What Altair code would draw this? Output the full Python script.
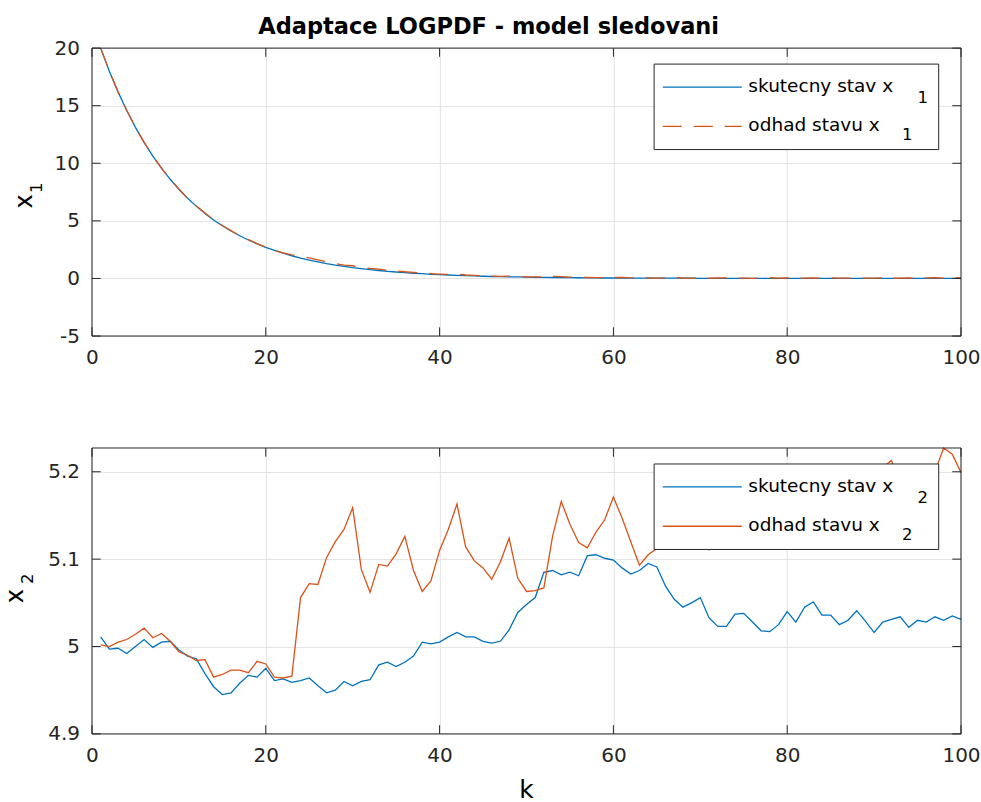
import altair as alt
import pandas as pd

# ---- data -------------------------------------------------------------
k = list(range(1, 101))

x1_true = [
    20.00, 18.00, 16.20, 14.58, 13.12, 11.81, 10.63, 9.57, 8.61, 7.75,
    6.97, 6.28, 5.65, 5.08, 4.58, 4.12, 3.71, 3.34, 3.00, 2.70,
    2.43, 2.19, 1.97, 1.77, 1.60, 1.44, 1.29, 1.16, 1.05, 0.94,
    0.85, 0.76, 0.69, 0.62, 0.56, 0.50, 0.45, 0.41, 0.36, 0.33,
    0.30, 0.27, 0.24, 0.22, 0.19, 0.17, 0.16, 0.14, 0.13, 0.11,
    0.10, 0.09, 0.08, 0.07, 0.07, 0.06, 0.05, 0.05, 0.04, 0.04,
    0.04, 0.03, 0.03, 0.03, 0.02, 0.02, 0.02, 0.02, 0.02, 0.01,
    0.01, 0.01, 0.01, 0.01, 0.01, 0.01, 0.01, 0.01, 0.01, 0.01,
    0.00, 0.00, 0.00, 0.00, 0.00, 0.00, 0.00, 0.00, 0.00, 0.00,
    0.00, 0.00, 0.00, 0.00, 0.00, 0.00, 0.00, 0.00, 0.00, 0.00,
]

x1_est = [
    20.00, 18.02, 16.18, 14.60, 13.15, 11.80, 10.66, 9.55, 8.63, 7.78,
    6.95, 6.30, 5.68, 5.06, 4.60, 4.15, 3.70, 3.37, 3.03, 2.72,
    2.45, 2.22, 2.05, 1.95, 1.78, 1.62, 1.45, 1.30, 1.15, 1.10,
    0.95, 0.88, 0.80, 0.70, 0.66, 0.58, 0.52, 0.46, 0.42, 0.38,
    0.35, 0.38, 0.30, 0.27, 0.22, 0.20, 0.18, 0.20, 0.16, 0.14,
    0.13, 0.12, 0.18, 0.16, 0.12, 0.09, 0.08, 0.07, 0.06, 0.08,
    0.10, 0.05, 0.04, 0.05, 0.03, 0.05, 0.08, 0.04, 0.02, 0.03,
    0.02, 0.04, 0.05, 0.02, 0.03, 0.01, 0.03, 0.06, 0.02, 0.04,
    0.02, 0.03, 0.05, 0.02, 0.06, 0.03, 0.02, 0.04, 0.03, 0.02,
    0.05, 0.01, 0.03, 0.04, 0.01, 0.05, 0.06, 0.03, 0.08, 0.05,
]

x2_true = [
    5.011, 4.997, 4.998, 4.992, 5.000, 5.008, 4.999, 5.005, 5.006, 4.996,
    4.989, 4.986, 4.969, 4.954, 4.945, 4.947, 4.958, 4.967, 4.965, 4.975,
    4.961, 4.963, 4.959, 4.961, 4.964, 4.955, 4.947, 4.950, 4.960, 4.955,
    4.960, 4.962, 4.979, 4.982, 4.977, 4.982, 4.989, 5.005, 5.003, 5.005,
    5.011, 5.016, 5.011, 5.011, 5.006, 5.004, 5.006, 5.019, 5.039, 5.048,
    5.056, 5.085, 5.087, 5.082, 5.085, 5.081, 5.104, 5.105, 5.101, 5.099,
    5.090, 5.083, 5.087, 5.095, 5.091, 5.069, 5.054, 5.045, 5.050, 5.056,
    5.033, 5.023, 5.023, 5.037, 5.038, 5.028, 5.018, 5.017, 5.025, 5.040,
    5.028, 5.045, 5.051, 5.036, 5.036, 5.025, 5.030, 5.041, 5.029, 5.016,
    5.028, 5.031, 5.034, 5.022, 5.030, 5.028, 5.034, 5.030, 5.035, 5.031,
]

x2_est = [
    5.002, 5.000, 5.005, 5.008, 5.014, 5.021, 5.010, 5.015, 5.006, 4.994,
    4.990, 4.984, 4.985, 4.965, 4.968, 4.973, 4.973, 4.970, 4.983, 4.980,
    4.965, 4.964, 4.966, 5.056, 5.072, 5.071, 5.102, 5.120, 5.134, 5.159,
    5.088, 5.062, 5.094, 5.092, 5.106, 5.126, 5.087, 5.063, 5.075, 5.110,
    5.134, 5.163, 5.114, 5.098, 5.090, 5.077, 5.097, 5.124, 5.078, 5.063,
    5.064, 5.067, 5.126, 5.166, 5.140, 5.119, 5.113, 5.131, 5.145, 5.171,
    5.147, 5.120, 5.093, 5.105, 5.112, 5.140, 5.160, 5.130, 5.150, 5.170,
    5.110, 5.140, 5.160, 5.180, 5.150, 5.170, 5.190, 5.160, 5.180, 5.170,
    5.190, 5.150, 5.170, 5.190, 5.180, 5.160, 5.190, 5.200, 5.180, 5.190,
    5.205, 5.213, 5.180, 5.190, 5.195, 5.185, 5.200, 5.2272, 5.220, 5.199,
]

x_ticks = [0, 20, 40, 60, 80, 100]
y1_ticks = [-5, 0, 5, 10, 15, 20]
y2_ticks = [4.9, 5.0, 5.1, 5.2]
y1_domain = [-5, 20]
y2_domain = [4.9, 5.2272]

title_text = "Adaptace LOGPDF - model sledovani"
legend_labels = ["skutecny stav x", "odhad stavu x"]
x_label = "k"

# ---- styling ----------------------------------------------------------
BLUE = "#0072BD"
ORANGE = "#D95319"
INK = "#262626"
GRID = "#e3e3e3"
FONT = "DejaVu Sans"
W = 869.3
H1 = 288
H2 = 286
TICK = 8.7
LW = 1.3

df = pd.DataFrame({"k": k, "x1": x1_true, "x1h": x1_est, "x2": x2_true, "x2h": x2_est})


def one_row(text=""):
    return pd.DataFrame({"t": [text]})


def text_layer(text, x, y, size, align="left", baseline="alphabetic", angle=0, weight="normal"):
    return alt.Chart(one_row(text)).mark_text(
        align=align, baseline=baseline, angle=angle, font=FONT,
        fontSize=size, fontWeight=weight, color="black",
    ).encode(x=alt.value(x), y=alt.value(y), text="t:N")


def panel(true_col, est_col, domain, yticks, H, dashed, sub, ylab_x, ylab_y, sub_x, sub_y):
    xs = alt.Scale(domain=[0, 100], nice=False)
    ys = alt.Scale(domain=domain, nice=False, zero=False)
    x_axis = alt.Axis(values=x_ticks, grid=True, ticks=False, domain=False,
                      labelFlush=False, labelPadding=11.5, labelFontSize=20,
                      labelFont=FONT, labelColor=INK, title=None,
                      labelExpr="datum.value", gridColor=GRID, gridOpacity=1)
    y_axis = alt.Axis(values=yticks, grid=True, ticks=False, domain=False,
                      labelPadding=12.5, labelFontSize=20, labelFont=FONT,
                      labelColor=INK, title=None, labelExpr="datum.value",
                      gridColor=GRID, gridOpacity=1)

    def X(field):
        return alt.X(f"{field}:Q", scale=xs, axis=x_axis)

    def Y(field):
        return alt.Y(f"{field}:Q", scale=ys, axis=y_axis)

    base = alt.Chart(df)
    true_line = base.mark_line(color=BLUE, strokeWidth=LW).encode(x=X("k"), y=Y(true_col))
    est_mark = dict(color=ORANGE, strokeWidth=LW)
    if dashed:
        est_mark["strokeDash"] = [19, 12]
    est_line = base.mark_line(**est_mark).encode(x=X("k"), y=Y(est_col))

    # inward tick marks on all four sides
    xt = pd.DataFrame({"k": x_ticks})
    yt = pd.DataFrame({"v": yticks})
    tick_style = dict(color=INK, strokeWidth=1)
    xt_bottom = alt.Chart(xt).mark_rule(**tick_style).encode(
        x=X("k"), y=alt.value(H - TICK), y2=alt.value(H))
    xt_top = alt.Chart(xt).mark_rule(**tick_style).encode(
        x=X("k"), y=alt.value(0), y2=alt.value(TICK))
    yt_left = alt.Chart(yt).mark_rule(**tick_style).encode(
        y=Y("v"), x=alt.value(0), x2=alt.value(TICK))
    yt_right = alt.Chart(yt).mark_rule(**tick_style).encode(
        y=Y("v"), x=alt.value(W - TICK), x2=alt.value(W))

    frame = alt.Chart(one_row()).mark_rect(fillOpacity=0, stroke=INK, strokeWidth=1).encode(
        x=alt.value(0), x2=alt.value(W), y=alt.value(0), y2=alt.value(H))

    # legend box
    box = alt.Chart(one_row()).mark_rect(fill="white", stroke=INK, strokeWidth=1).encode(
        x=alt.value(562.3), x2=alt.value(847.0), y=alt.value(16.0), y2=alt.value(101.5))
    sample1 = alt.Chart(one_row()).mark_rule(color=BLUE, strokeWidth=LW).encode(
        x=alt.value(571), x2=alt.value(650), y=alt.value(39))
    s2 = dict(color=ORANGE, strokeWidth=LW)
    if dashed:
        s2["strokeDash"] = [19, 12]
    sample2 = alt.Chart(one_row()).mark_rule(**s2).encode(
        x=alt.value(571), x2=alt.value(650), y=alt.value(78.3))
    lab1 = text_layer(legend_labels[0], 656.6, 44.3, 18.5)
    lab2 = text_layer(legend_labels[1], 656.6, 82.8, 18.5)
    sub1 = text_layer(sub, 831, 54.6, 16.5, align="center")
    sub2 = text_layer(sub, 815.5, 92, 16.5, align="center")

    ylab = text_layer("x", ylab_x, ylab_y, 24, align="center", baseline="middle", angle=270)
    ysub = text_layer(sub, sub_x, sub_y, 16.5, align="center", baseline="middle", angle=270)

    return [true_line, est_line, xt_bottom, xt_top, yt_left, yt_right, frame,
            box, sample1, sample2, lab1, lab2, sub1, sub2, ylab, ysub]


top_layers = panel("x1", "x1h", y1_domain, y1_ticks, H1, True, "1",
                   -67.2, 153.3, -54.7, 139.8)
# transparent spacer fixing the page origin of the upper plot area
spacer = alt.Chart(one_row()).mark_rect(opacity=0).encode(
    x=alt.value(-91.7), x2=alt.value(889.3), y=alt.value(-47.7), y2=alt.value(0))
title = text_layer(title_text, 396.8, -14.4, 22.5, align="center", weight="bold")
top = alt.layer(spacer, *top_layers, title).properties(width=W, height=H1)

bottom_layers = panel("x2", "x2h", y2_domain, y2_ticks, H2, False, "2",
                      -76.2, 148.3, -63.7, 130.8)
klabel = text_layer(x_label, 434.6, 350, 25, align="center")
bottom = alt.layer(*bottom_layers, klabel).properties(width=W, height=H2)

chart = alt.vconcat(top, bottom, spacing=112, bounds="flush", padding=0).configure(
    background="white"
).configure_view(stroke=None)

chart.save("out.html", embed_options={"renderer": "svg", "actions": False})
